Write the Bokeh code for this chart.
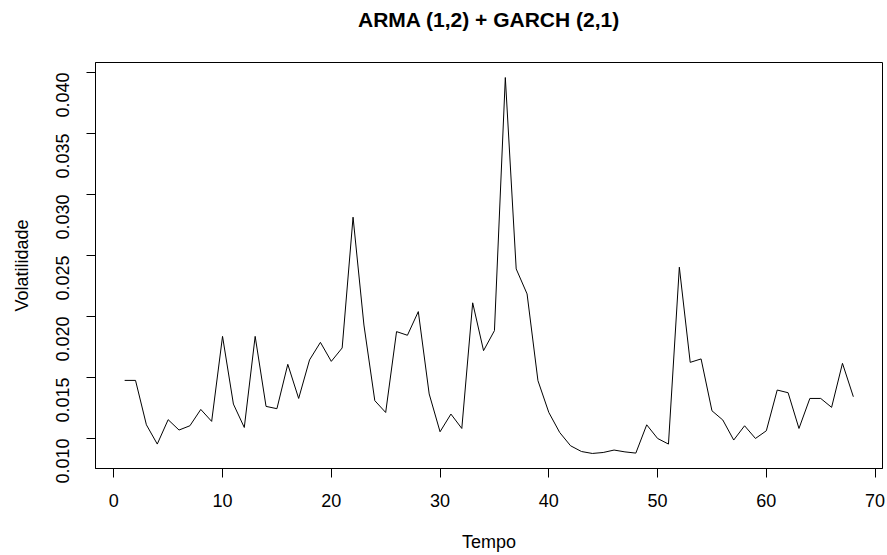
from bokeh.plotting import figure
from bokeh.models import Range1d, FixedTicker, PrintfTickFormatter, ColumnDataSource, Title
from bokeh.embed import file_html
from bokeh.resources import INLINE
import math

title_text = "ARMA (1,2) + GARCH (2,1)"
x_label = "Tempo"
y_label = "Volatilidade"

tempo = list(range(1, 69))
volatilidade = [
    0.01476, 0.01476, 0.01112, 0.00954, 0.01154, 0.01069, 0.01104, 0.01238, 0.01140, 0.01837,
    0.01282, 0.01090, 0.01837, 0.01263, 0.01244, 0.01608, 0.01328, 0.01644, 0.01788, 0.01632,
    0.01742, 0.02814, 0.01930, 0.01310, 0.01213, 0.01876, 0.01846, 0.02040, 0.01365, 0.01055,
    0.01200, 0.01082, 0.02112, 0.01720, 0.01884, 0.03959, 0.02390, 0.02185, 0.01474, 0.01213,
    0.01049, 0.00940, 0.00893, 0.00877, 0.00885, 0.00905, 0.00890, 0.00880, 0.01112, 0.01000,
    0.00954, 0.02404, 0.01624, 0.01652, 0.01227, 0.01151, 0.00987, 0.01104, 0.01000, 0.01063,
    0.01397, 0.01375, 0.01082, 0.01328, 0.01328, 0.01255, 0.01616, 0.01342,
]
x_ticks = [0, 10, 20, 30, 40, 50, 60, 70]
y_ticks = [0.010, 0.015, 0.020, 0.025, 0.030, 0.035, 0.040]

FONT = "'Liberation Sans', Arial, sans-serif"

def padded(vals, frac=0.04):
    lo, hi = min(vals), max(vals)
    d = (hi - lo) * frac
    return lo - d, hi + d

xr = padded(tempo)
yr = padded(volatilidade)

p = figure(width=887, height=555, output_backend="svg", toolbar_location=None,
           title=None,
           x_range=Range1d(*xr), y_range=Range1d(*yr),
           min_border_left=95, min_border_right=5, min_border_top=62, min_border_bottom=87)

src = ColumnDataSource(dict(x=tempo, y=volatilidade))
p.line("x", "y", source=src, line_color="black", line_width=1)

# spacer (nearest the frame), then the main title further out
p.add_layout(Title(text=" ", text_font_size="12px", standoff=11), "above")
p.add_layout(Title(text=title_text, align="center", text_font=FONT,
                   text_font_size="21px", text_font_style="bold",
                   text_color="black", standoff=10), "above")

p.grid.visible = False
p.outline_line_color = "black"
p.outline_line_width = 1
p.outline_line_alpha = 1
p.background_fill_color = "white"
p.border_fill_color = "white"

for ax in (p.xaxis[0], p.yaxis[0]):
    ax.axis_line_color = "black"
    ax.major_tick_line_color = "black"
    ax.major_tick_out = 9
    ax.major_tick_in = 0
    ax.minor_tick_line_color = None
    ax.major_label_text_font = FONT
    ax.major_label_text_font_size = "18px"
    ax.major_label_text_color = "black"
    ax.axis_label_text_font = FONT
    ax.axis_label_text_font_size = "18px"
    ax.axis_label_text_font_style = "normal"
    ax.axis_label_text_color = "black"

p.xaxis[0].ticker = FixedTicker(ticks=x_ticks)
p.yaxis[0].ticker = FixedTicker(ticks=y_ticks)
p.yaxis[0].formatter = PrintfTickFormatter(format="%.3f")
p.yaxis[0].major_label_orientation = math.pi / 2
p.xaxis[0].axis_label = x_label
p.yaxis[0].axis_label = y_label
p.xaxis[0].major_label_standoff = 16
p.xaxis[0].axis_label_standoff = 22
p.yaxis[0].major_label_standoff = 24
p.yaxis[0].axis_label_standoff = 15

open("out.html", "w").write(file_html(p, INLINE))
